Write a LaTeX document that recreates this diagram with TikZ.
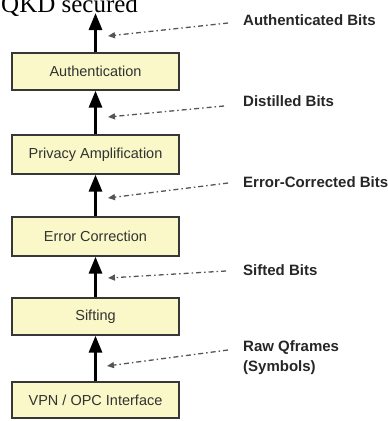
\documentclass[tikz,border=0pt]{standalone}
\usepackage{fontspec}
\setmainfont{Liberation Sans}
\newfontfamily\titlefont{Liberation Serif}
\usetikzlibrary{arrows.meta}
\definecolor{boxfill}{RGB}{250,248,200}
\definecolor{boxline}{RGB}{55,55,55}
\definecolor{txt}{RGB}{50,50,50}
\definecolor{dashcol}{RGB}{85,85,85}
\tikzset{
  stage/.style={draw=boxline, line width=1.3pt, fill=boxfill, minimum width=167pt, inner sep=0pt,
    text=txt, font=\fontsize{14.5}{17}\selectfont},
  flow/.style={line width=3pt, draw=black, -{Triangle[length=17pt,width=13pt]}},
  feed/.style={draw=dashcol, line width=1.3pt, dash pattern=on 5pt off 3pt on 1.5pt off 3pt,
    -{Triangle[length=7pt,width=6pt]}},
  lab/.style={anchor=west, inner sep=0pt, text=black!85, font=\fontsize{15}{20}\selectfont\bfseries, align=left}
}
\begin{document}
\begin{tikzpicture}[x=1pt,y=-1pt]
\useasboundingbox (0,0) rectangle (388,421);
\node[anchor=base west, inner sep=0pt, font=\titlefont\fontsize{25}{28}\selectfont] (title) at (1,12) {QKD secured};

\node[stage, minimum height=37pt] (auth) at (95.5,71.5) {Authentication};
\node[stage, minimum height=39pt] (priv) at (95.5,154.5) {Privacy Amplification};
\node[stage, minimum height=39pt] (err) at (95.5,236.5) {Error Correction};
\node[stage, minimum height=37pt] (sift) at (95.5,316.5) {Sifting};
\node[stage, minimum height=36pt] (vpn) at (95.5,400) {VPN / OPC Interface};

\coordinate (top) at (95.5,13);
\draw[flow] (auth.north) -- (top);
\draw[flow] (priv.north) -- (auth.south);
\draw[flow] (err.north) -- (priv.south);
\draw[flow] (sift.north) -- (err.south);
\draw[flow] (vpn.north) -- (sift.south);

\node[lab] (l1) at (243,20) {Authenticated Bits};
\node[lab] (l2) at (243,101) {Distilled Bits};
\node[lab] (l3) at (243,182) {Error-Corrected Bits};
\node[lab] (l4) at (243,270) {Sifted Bits};
\node[lab] (l5) at (243,358) {Raw Qframes\\(Symbols)};

\coordinate (s1) at (228,23);  \coordinate (t1) at (108,36);
\coordinate (s2) at (224,106); \coordinate (t2) at (108,117);
\coordinate (s3) at (228,183); \coordinate (t3) at (108,198);
\coordinate (s4) at (226,271); \coordinate (t4) at (108,278);
\coordinate (s5) at (228,350); \coordinate (t5) at (107,366);
\draw[feed] (s1) -- (t1);
\draw[feed] (s2) -- (t2);
\draw[feed] (s3) -- (t3);
\draw[feed] (s4) -- (t4);
\draw[feed] (s5) -- (t5);
\end{tikzpicture}
\end{document}
